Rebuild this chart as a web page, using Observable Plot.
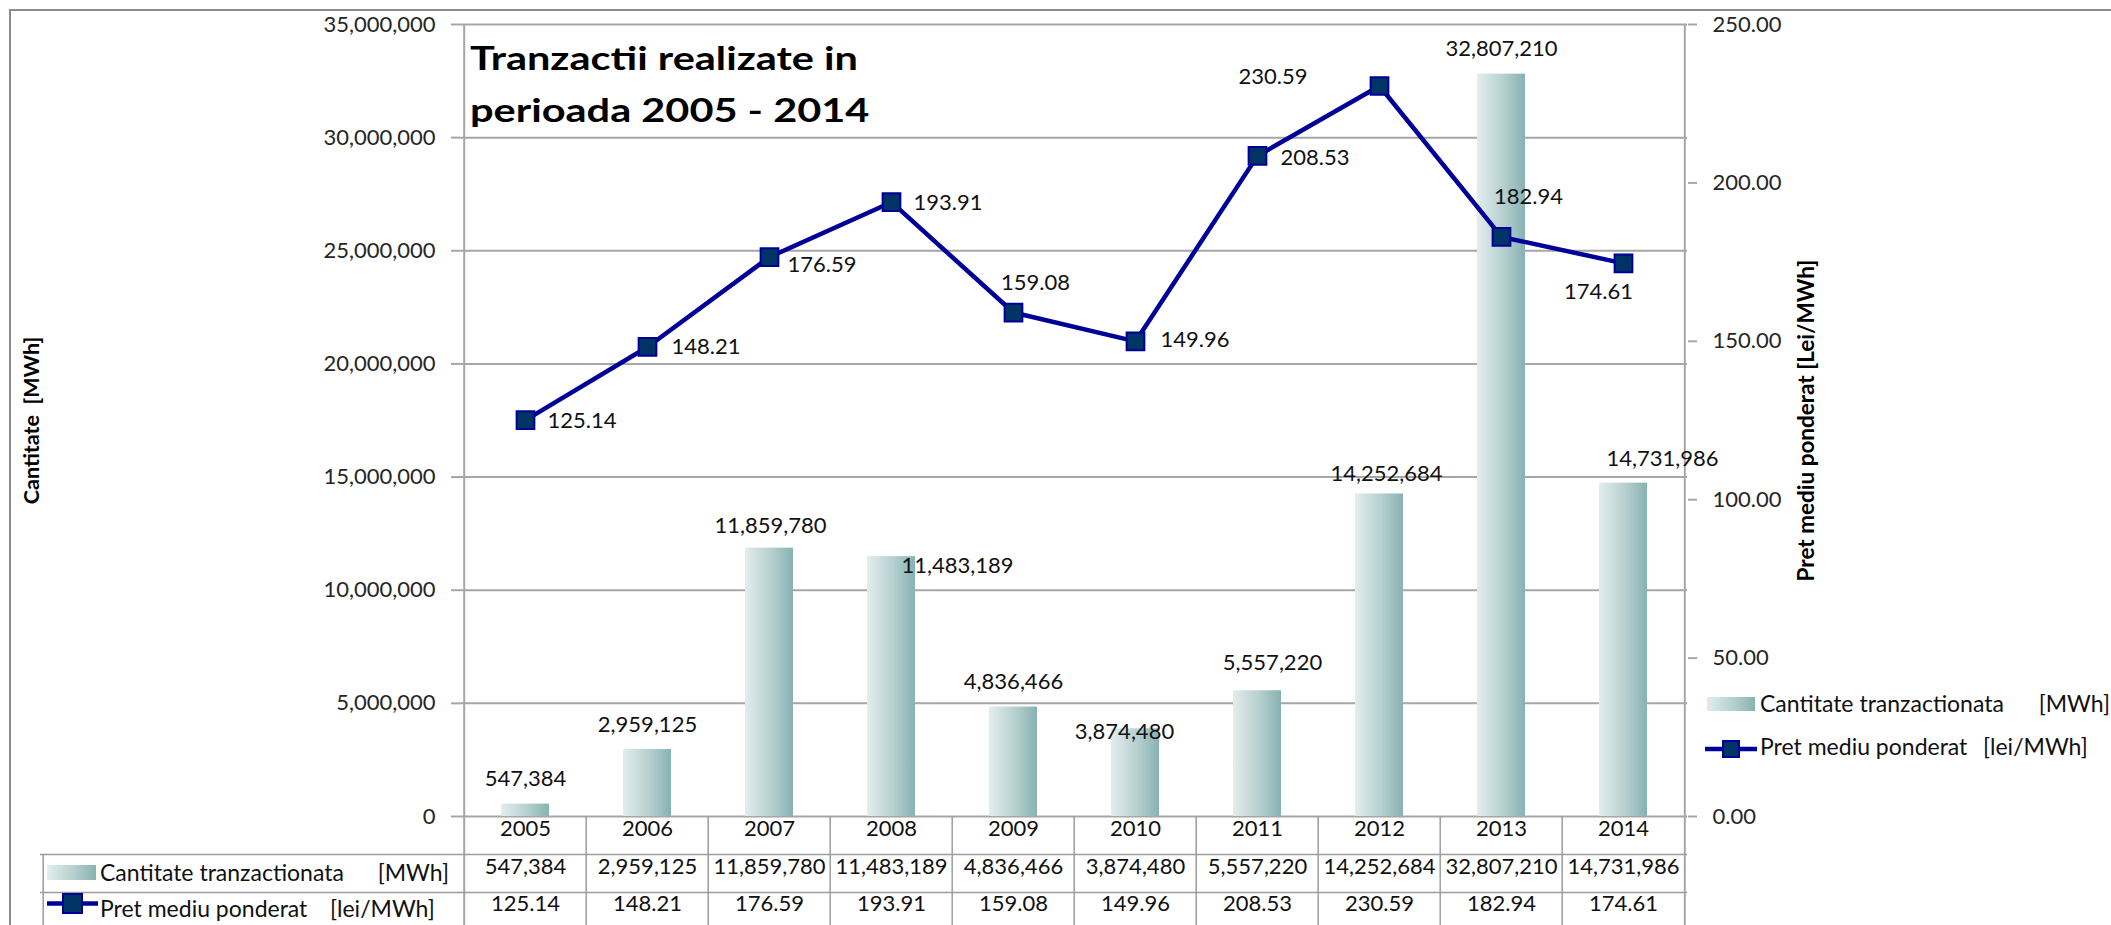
<!DOCTYPE html>
<html>
<head>
<meta charset="utf-8">
<script src="https://cdn.jsdelivr.net/npm/d3@7"></script>
<script src="https://cdn.jsdelivr.net/npm/@observablehq/plot@0.6"></script>
<style>
  html, body { margin: 0; padding: 0; background: #fff; }
  body { width: 2111px; height: 925px; overflow: hidden; position: relative; font-family: Lato, sans-serif; color: #111; }
  #chart { position: absolute; left: 0; top: 0; }
  #frame { position: absolute; left: 9px; top: 9px; width: 2300px; height: 1100px; border-top: 2px solid #8c8c8c; border-left: 2px solid #8c8c8c; z-index: 2; pointer-events: none; }
  .ov { position: absolute; z-index: 3; white-space: pre; line-height: 1; }
  #title { position: absolute; z-index: 3; left: 470px; top: 31px; font-weight: 700; font-size: 33px; line-height: 52px; transform-origin: 0 0; white-space: pre; color: #000; }
  #defs { position: absolute; width: 0; height: 0; }
</style>
</head>
<body>
<svg id="defs" width="0" height="0">
  <defs>
    <linearGradient id="barGrad" x1="0" x2="1" y1="0" y2="0">
      <stop offset="0%" stop-color="#e3eded"/>
      <stop offset="55%" stop-color="#b6cfcf"/>
      <stop offset="100%" stop-color="#88b2b2"/>
    </linearGradient>
  </defs>
</svg>
<div id="chart"></div>
<div id="frame"></div>
<div id="title"></div>
<script>
// ---------------- data ----------------
const years = ["2005", "2006", "2007", "2008", "2009", "2010", "2011", "2012", "2013", "2014"];
const quantity = [547384, 2959125, 11859780, 11483189, 4836466, 3874480, 5557220, 14252684, 32807210, 14731986];
const price = [125.14, 148.21, 176.59, 193.91, 159.08, 149.96, 208.53, 230.59, 182.94, 174.61];
const qtyTicks = [0, 5000000, 10000000, 15000000, 20000000, 25000000, 30000000, 35000000];
const priceTicks = [0, 50, 100, 150, 200, 250];
const seriesNames = ["Cantitate tranzactionata", "Pret mediu ponderat"];
const seriesUnits = ["[MWh]", "[lei/MWh]"];
const axisTitles = ["Cantitate  [MWh]", "Pret mediu ponderat [Lei/MWh]"];
const titleLines = ["Tranzactii realizate in", "perioada 2005 - 2014"];

// ---------------- layout ----------------
const W = 2111, H = 925;
const mL = 461, mR = W - 1687, mT = 24, mB = H - 816;
const bw = (W - mL - mR) / years.length;
const K = qtyTicks[qtyTicks.length - 1] / priceTicks[priceTicks.length - 1]; // secondary-axis factor
const tableLeft = 40;
const rowH = 38;

const rows = years.map((year, i) => ({year, qty: quantity[i], price: price[i], pq: price[i] * K}));
const fmtQty = d3.format(",");
const fmtPrice = d => d.toFixed(2);

const gridColor = "#a6a6a6";
const tableColor = "#9c9c9c";
const lineColor = "#000099";
const markerFill = "#003366";

// label placement (Excel moved some labels)
const barLabelShift = {"2007": [1, 3], "2008": [66, 34], "2010": [-11, 28], "2011": [15, -3], "2012": [7, 5], "2014": [39, 1]};
const priceLabelPlace = {
  "2005": ["start", 22, 1], "2006": ["start", 24, 0], "2007": ["start", 18, 8], "2008": ["start", 22, 1],
  "2009": ["middle", 22, -30], "2010": ["start", 25, -1], "2011": ["start", 23, 2],
  "2012": ["end", -72, -9], "2013": ["middle", 27, -40], "2014": ["middle", -25, 29]
};

const barLabels = rows.map(r => {
  const [sx, sy] = barLabelShift[r.year] || [0, 0];
  return Plot.text([r], {x: "year", y: "qty", text: d => fmtQty(d.qty), dx: sx, dy: -25 + sy, fill: "#111"});
});
const priceLabels = rows.map(r => {
  const [anchor, dx, dy] = priceLabelPlace[r.year];
  return Plot.text([r], {x: "year", y: "pq", text: d => fmtPrice(d.price), textAnchor: anchor, dx, dy, fill: "#111"});
});

const chart = Plot.plot({
  width: W, height: H,
  marginLeft: mL, marginRight: mR, marginTop: mT, marginBottom: mB,
  style: {fontFamily: "Lato, sans-serif", fontSize: "22px", color: "#111", background: "transparent"},
  x: {type: "band", domain: years, padding: 0, axis: null},
  y: {domain: [0, qtyTicks[qtyTicks.length - 1]], axis: null},
  marks: [
    Plot.gridY(qtyTicks, {stroke: gridColor, strokeOpacity: 1, strokeWidth: 2}),
    Plot.axisY(qtyTicks, {anchor: "left", tickSize: 10, tickPadding: 16, tickFormat: fmtQty, stroke: gridColor, strokeWidth: 2, fill: "#262626", fontSize: 22, label: null}),
    Plot.axisY(priceTicks.map(p => p * K), {anchor: "right", tickSize: 9, tickPadding: 16, tickFormat: d => fmtPrice(d / K), stroke: gridColor, strokeWidth: 2, fill: "#262626", fontSize: 22, label: null}),
    // axis lines continuing into the data table
    Plot.ruleX([years[0]], {x: d => d, dx: -bw / 2, y1: qtyTicks[qtyTicks.length - 1], y2: -5000000, stroke: gridColor, strokeWidth: 2}),
    Plot.ruleX([years[years.length - 1]], {x: d => d, dx: bw / 2, y1: qtyTicks[qtyTicks.length - 1], y2: -5000000, stroke: gridColor, strokeWidth: 2}),
    // table grid
    Plot.ruleX(years.slice(1), {x: d => d, dx: -bw / 2, y1: 0, y2: -5000000, stroke: tableColor, strokeWidth: 1.5}),
    Plot.ruleX([years[0]], {x: d => d, dx: -bw / 2 - (mL - tableLeft), dy: rowH, y1: 0, y2: -5000000, stroke: tableColor, strokeWidth: 1.5}),
    Plot.ruleY([0], {dy: rowH, insetLeft: -(mL - tableLeft), stroke: tableColor, strokeWidth: 1.5}),
    Plot.ruleY([0], {dy: 2 * rowH, insetLeft: -(mL - tableLeft), stroke: tableColor, strokeWidth: 1.5}),
    // bars
    Plot.barY(rows, {x: "year", y: "qty", fill: "url(#barGrad)", insetLeft: 37, insetRight: 37}),
    ...barLabels,
    // price line
    Plot.line(rows, {x: "year", y: "pq", stroke: lineColor, strokeWidth: 4.5}),
    Plot.dot(rows, {x: "year", y: "pq", symbol: "square", r: 10, fill: markerFill, stroke: lineColor, strokeWidth: 2}),
    ...priceLabels,
    // table cells
    Plot.text(years, {x: d => d, frameAnchor: "bottom", dy: 19, fill: "#111"}),
    Plot.text(rows, {x: "year", frameAnchor: "bottom", dy: 57, text: d => fmtQty(d.qty), fill: "#111"}),
    Plot.text(rows, {x: "year", frameAnchor: "bottom", dy: 94, text: d => fmtPrice(d.price), fill: "#111"}),
    // axis titles
    Plot.text([axisTitles[0]], {frameAnchor: "left", textAnchor: "middle", dx: -429, rotate: -90, fontWeight: 700, fontSize: 21.5, fill: "#000"}),
    Plot.text([axisTitles[1]], {frameAnchor: "right", textAnchor: "middle", dx: 119, rotate: -90, fontWeight: 700, fontSize: 22.5, fill: "#000"})
  ]
});
document.getElementById("chart").append(chart);

// ---------------- title ----------------
const title = document.getElementById("title");
title.textContent = titleLines.join("\n");
const probe = document.createElement("span");
probe.style.cssText = "position:absolute;visibility:hidden;white-space:pre;font:700 33px Lato, sans-serif;";
probe.textContent = titleLines[0];
document.body.append(probe);
const tw = probe.getBoundingClientRect().width;
probe.remove();
title.style.transform = `scaleX(${(388 / tw).toFixed(3)})`;

// ---------------- legends (right legend and table row headers) ----------------
function addText(txt, x, yc, fs, anchor) {
  const d = document.createElement("div");
  d.className = "ov";
  d.textContent = txt;
  d.style.fontSize = fs + "px";
  d.style.top = (yc - 0.527 * fs) + "px";
  if (anchor === "end") d.style.right = (W - x) + "px"; else d.style.left = x + "px";
  document.body.append(d);
}
function addBarSwatch(x, y, w, h) {
  const s = document.createElementNS("http://www.w3.org/2000/svg", "svg");
  s.setAttribute("width", w); s.setAttribute("height", h);
  s.style.cssText = `position:absolute;left:${x}px;top:${y}px;z-index:3;`;
  s.innerHTML = `<rect x="0" y="0" width="${w}" height="${h}" fill="url(#barGrad)"/>`;
  document.body.append(s);
}
function addLineSwatch(x, yc, w, sq) {
  const h = sq + 4;
  const s = document.createElementNS("http://www.w3.org/2000/svg", "svg");
  s.setAttribute("width", w); s.setAttribute("height", h);
  s.style.cssText = `position:absolute;left:${x}px;top:${yc - h / 2}px;z-index:3;`;
  s.innerHTML = `<line x1="0" x2="${w}" y1="${h / 2}" y2="${h / 2}" stroke="${lineColor}" stroke-width="4.5"/>` +
    `<rect x="${w / 2 - sq / 2}" y="${h / 2 - sq / 2}" width="${sq}" height="${sq}" fill="${markerFill}" stroke="${lineColor}" stroke-width="2"/>`;
  document.body.append(s);
}
// right legend
addBarSwatch(1707, 697, 48, 14);
addText(seriesNames[0], 1760, 704, 23);
addText(seriesUnits[0], 2110, 704, 23, "end");
addLineSwatch(1705, 749, 52, 16);
addText(seriesNames[1], 1760, 747, 23);
addText(seriesUnits[1], 1983, 747, 23);
// table row headers
addBarSwatch(47, 865, 49, 15);
addText(seriesNames[0], 100, 873, 23);
addText(seriesUnits[0], 449, 873, 23, "end");
addLineSwatch(47, 903, 51, 19);
addText(seriesNames[1], 100, 909, 23);
addText(seriesUnits[1], 330, 909, 23);
</script>
</body>
</html>
